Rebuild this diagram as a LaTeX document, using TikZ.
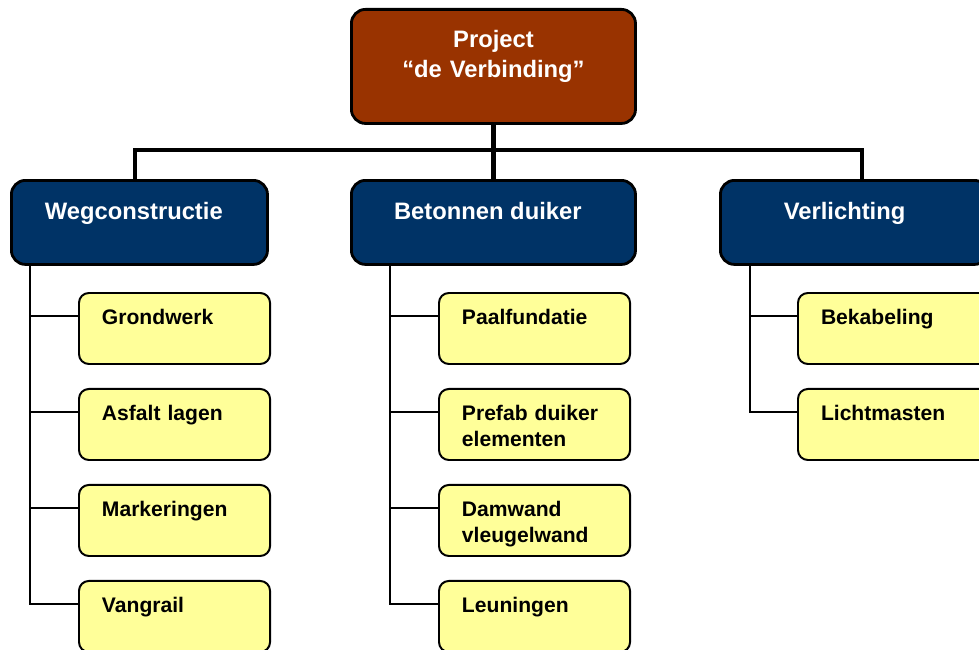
\documentclass[tikz,border=0pt]{standalone}
\usepackage{fontspec}
\setmainfont{Liberation Sans}
\definecolor{wbs_brown}{RGB}{153, 51, 0}
\definecolor{wbs_blue}{RGB}{0, 51, 102}
\definecolor{wbs_yellow}{RGB}{255, 255, 153}
\usetikzlibrary{positioning}

\begin{document}
\begin{tikzpicture}[x=0.025cm, y=-0.025cm,
        projbox/.style={draw, line width=2pt, rounded corners=10pt,
                   fill=wbs_brown, text=white, align=center, anchor=north west,
                   font=\bfseries\fontsize{16.9}{21.3}\selectfont,
                   text width=7.1cm, inner sep=0pt,
                   text height=0.95cm, text depth=1.9cm},
        grpbox/.style={draw, line width=2pt, rounded corners=10pt,
                   fill=wbs_blue, text=white, anchor=north west,
                   font=\bfseries\fontsize{16.9}{21.3}\selectfont,
                   inner sep=0pt, text height=0.9875cm, text depth=1.1125cm},
        taskbox/.style={draw, line width=1.4pt, rounded corners=7pt,
                   fill=wbs_yellow, align=left, anchor=north west,
                   font=\bfseries\fontsize{15}{17.8}\selectfont,
                   text width=3.625cm, inner xsep=0.575cm, inner ysep=0pt,
                   text height=0.8cm, text depth=0.975cm},
        bus/.style={line width=3.2pt},
        tree/.style={line width=1.4pt}]
        \useasboundingbox (0,0) rectangle (979,650);
        % Project
        \node[projbox] (proj) at (350,8) {Project\\“de Verbinding”};
        % Onderdelen
        \node[grpbox, minimum width=6.4cm] (weg) at (10,179) {Wegconstructie\kern8pt};
        \node[grpbox, minimum width=7.1cm] (bet) at (350,179) {Betonnen duiker\kern8pt};
        \node[grpbox, minimum width=6.7cm] (ver) at (719,179) {Verlichting\kern14pt};
        % Wegconstructie
        \node[taskbox] (grond) at (78,292) {Grondwerk};
        \node[taskbox, below=0.575cm of grond] (asfalt) {Asfalt lagen};
        \node[taskbox, below=0.575cm of asfalt] (mark) {Markeringen};
        \node[taskbox, below=0.575cm of mark] (vang) {Vangrail};
        % Betonnen duiker
        \node[taskbox] (paal) at (438,292) {Paalfundatie};
        \node[taskbox, below=0.575cm of paal] (prefab) {Prefab duiker\\elementen};
        \node[taskbox, below=0.575cm of prefab] (damw) {Damwand\\vleugelwand};
        \node[taskbox, below=0.575cm of damw] (leun) {Leuningen};
        % Verlichting
        \node[taskbox] (kabel) at (797,292) {Bekabeling};
        \node[taskbox, below=0.575cm of kabel] (mast) {Lichtmasten};
        % Lijnen
        \coordinate (busL) at (135,150);
        \coordinate (busR) at (862,150);
        \draw[bus] (proj.south) -- (bet.north);
        \draw[bus] (busL |- weg.north) -- (busL) -- (busR) -- (busR |- ver.north);
        \foreach \t in {grond, asfalt, mark, vang}
          \draw[tree] ([xshift=0.5cm]weg.south west) |- ([yshift=-0.6cm]\t.north west);
        \foreach \t in {paal, prefab, damw, leun}
          \draw[tree] ([xshift=1cm]bet.south west) |- ([yshift=-0.6cm]\t.north west);
        \foreach \t in {kabel, mast}
          \draw[tree] ([xshift=0.775cm]ver.south west) |- ([yshift=-0.6cm]\t.north west);
      \end{tikzpicture}
\end{document}
